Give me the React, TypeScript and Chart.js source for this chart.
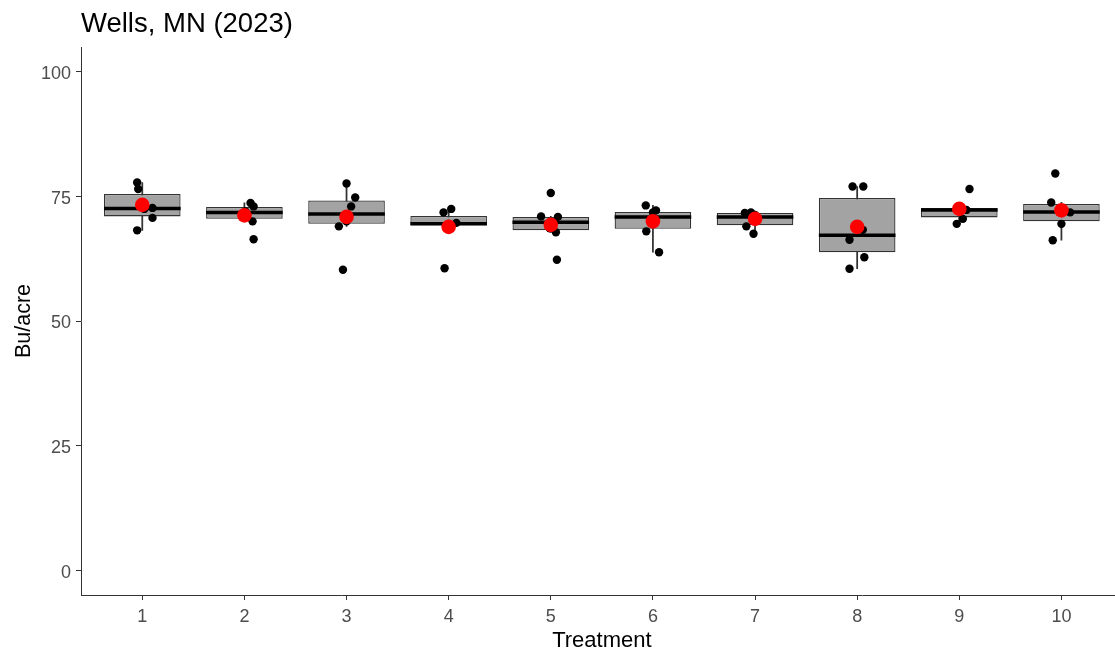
import { useEffect, useRef } from "react";
import { Chart, registerables } from "chart.js";

Chart.register(...registerables);

// Yield trial: Wells, MN (2023)
const titleText = "Wells, MN (2023)";
const xAxisTitle = "Treatment";
const yAxisTitle = "Bu/acre";

const treatments = [1, 2, 3, 4, 5, 6, 7, 8, 9, 10];
const yTicks = [0, 25, 50, 75, 100];

// Box summary per treatment (Bu/acre)
const boxQ1 = [71.0, 70.5, 69.5, 69.2, 68.2, 68.5, 69.2, 63.8, 70.8, 70.0];
const boxMedian = [72.6, 71.8, 71.5, 69.5, 69.8, 70.9, 70.9, 67.2, 72.3, 71.9];
const boxQ3 = [75.5, 72.9, 74.2, 71.1, 70.9, 71.9, 71.7, 74.7, 72.7, 73.5];
const whiskerLow = [68.2, 70.0, 69.0, 69.2, 67.8, 63.8, 67.5, 60.5, 69.5, 66.2];
const whiskerHigh = [77.8, 73.7, 77.6, 72.5, 71.0, 73.2, 71.8, 77.0, 72.7, 73.8];

// Treatment means
const treatmentMeans = [73.3, 71.2, 70.9, 68.9, 69.3, 70.0, 70.5, 68.9, 72.5, 72.2];

// Individual plot yields (6 reps per treatment) and their horizontal jitter
const plotYields = [
  [77.8, 76.5, 72.7, 70.7, 68.2, 72.5],
  [73.7, 73.0, 72.0, 71.6, 70.0, 66.4],
  [77.6, 74.8, 73.0, 70.0, 69.0, 60.3],
  [72.5, 71.8, 69.7, 69.5, 69.3, 60.6],
  [75.7, 71.0, 70.9, 68.6, 67.8, 62.3],
  [73.2, 72.2, 71.8, 70.0, 68.0, 63.8],
  [71.8, 71.7, 71.3, 70.5, 69.0, 67.5],
  [77.0, 77.0, 68.3, 66.3, 62.8, 60.5],
  [76.5, 72.6, 72.4, 72.3, 70.5, 69.5],
  [79.6, 73.8, 72.3, 71.8, 69.5, 66.2],
];
const plotJitter = [
  [-0.05, -0.04, 0.1, 0.1, -0.05, 0.02],
  [0.06, 0.09, 0.01, -0.02, 0.08, 0.09],
  [0.0, 0.085, 0.045, 0.0, -0.075, -0.035],
  [0.025, -0.05, 0.075, 0.0, -0.01, -0.04],
  [0.0, -0.095, 0.07, -0.01, 0.05, 0.06],
  [-0.07, 0.03, 0.0, -0.01, -0.065, 0.06],
  [-0.04, -0.1, 0.0, -0.01, -0.085, -0.015],
  [-0.045, 0.06, 0.055, -0.075, 0.07, -0.075],
  [0.1, 0.0, -0.01, 0.07, 0.035, -0.025],
  [-0.06, -0.1, 0.0, 0.085, 0.0, -0.085],
];

const FONT = "'Liberation Sans', Arial, Helvetica, sans-serif";
const BOX_WIDTH = 0.75;

const titlePlugin = {
  id: "plotTitle",
  afterDraw(chart: any) {
    const { ctx, chartArea } = chart;
    ctx.save();
    ctx.font = `27.5px ${FONT}`;
    ctx.fillStyle = "#000000";
    ctx.textAlign = "left";
    ctx.textBaseline = "alphabetic";
    ctx.fillText(titleText, chartArea.left, 31.5);
    ctx.restore();
  },
};

export default function App() {
  const canvasRef = useRef<HTMLCanvasElement | null>(null);

  useEffect(() => {
    document.body.style.margin = "0";
    document.body.style.overflow = "hidden";
    const canvas = canvasRef.current;
    if (!canvas) return;

    const points: { x: number; y: number }[] = [];
    treatments.forEach((t, i) => {
      plotYields[i].forEach((y, j) => {
        points.push({ x: t + plotJitter[i][j], y });
      });
    });

    const chart = new Chart(canvas, {
      type: "bar",
      data: {
        datasets: [
          {
            type: "scatter",
            label: "Mean",
            data: treatments.map((t, i) => ({ x: t, y: treatmentMeans[i] })),
            pointRadius: 7.3,
            pointBackgroundColor: "#FF0000",
            pointBorderWidth: 0,
            order: 0,
          } as any,
          {
            type: "scatter",
            label: "Plots",
            data: points,
            pointRadius: 4.2,
            pointBackgroundColor: "#000000",
            pointBorderWidth: 0,
            order: 1,
          } as any,
          {
            type: "scatter",
            label: "Median",
            data: treatments.map((t, i) => ({ x: t, y: boxMedian[i] })),
            pointStyle: "line",
            pointRadius: (ctx: any) => {
              const s = ctx.chart.scales.x;
              return s.getPixelForValue(BOX_WIDTH / 2) - s.getPixelForValue(0);
            },
            pointBorderColor: "#000000",
            pointBorderWidth: 3.5,
            order: 2,
          } as any,
          {
            type: "bar",
            label: "Box",
            data: treatments.map((t, i) => ({ x: t, y: [boxQ1[i], boxQ3[i]] })),
            backgroundColor: "#A3A3A3",
            borderColor: "#333333",
            borderWidth: 1.3,
            borderSkipped: false,
            grouped: false,
            categoryPercentage: 1,
            barPercentage: BOX_WIDTH,
            order: 3,
          } as any,
          {
            type: "bar",
            label: "Whisker",
            data: treatments.map((t, i) => ({ x: t, y: [whiskerLow[i], whiskerHigh[i]] })),
            backgroundColor: "#333333",
            borderWidth: 0,
            grouped: false,
            barThickness: 1.1,
            order: 4,
          } as any,
        ],
      },
      options: {
        animation: false,
        responsive: true,
        maintainAspectRatio: false,
        layout: { padding: { top: 47, left: 0, right: 6.7, bottom: 0 } },
        plugins: {
          legend: { display: false },
          tooltip: { enabled: false },
          title: { display: false },
        },
        scales: {
          x: {
            type: "linear",
            min: 0.4,
            max: 10.6,
            offset: false,
            afterBuildTicks: (scale: any) => {
              scale.ticks = treatments.map((v) => ({ value: v }));
            },
            afterFit: (scale: any) => {
              scale.height = 62;
              scale.paddingLeft = 0;
              scale.paddingRight = 0;
            },
            grid: {
              display: true,
              offset: false,
              drawOnChartArea: false,
              drawTicks: true,
              tickLength: 5,
              color: "#333333",
              lineWidth: 1,
            },
            border: { display: true, color: "#333333", width: 1 },
            ticks: {
              color: "#4D4D4D",
              font: { family: FONT, size: 18 },
              padding: 6,
              maxRotation: 0,
              autoSkip: false,
            },
            title: {
              display: true,
              text: xAxisTitle,
              color: "#000000",
              font: { family: FONT, size: 22 },
              padding: { top: 0, bottom: 3 },
            },
          },
          y: {
            type: "linear",
            min: -5,
            max: 105,
            afterBuildTicks: (scale: any) => {
              scale.ticks = yTicks.map((v) => ({ value: v }));
            },
            afterFit: (scale: any) => {
              scale.width = 81;
              scale.paddingTop = 0;
              scale.paddingBottom = 0;
            },
            grid: {
              display: true,
              drawOnChartArea: false,
              drawTicks: true,
              tickLength: 5,
              color: "#333333",
              lineWidth: 1,
            },
            border: { display: true, color: "#333333", width: 1 },
            ticks: {
              color: "#4D4D4D",
              font: { family: FONT, size: 18 },
              padding: 5,
              labelOffset: 2.5,
            },
            title: {
              display: true,
              text: yAxisTitle,
              color: "#000000",
              font: { family: FONT, size: 21.5 },
              padding: { top: 11, bottom: 0 },
            },
          },
        },
      } as any,
      plugins: [titlePlugin],
    });

    return () => chart.destroy();
  }, []);

  // The plot panel runs slightly past the right edge of the window.
  return (
    <div style={{ width: 1130, height: 657, position: "relative" }}>
      <canvas ref={canvasRef} />
    </div>
  );
}
